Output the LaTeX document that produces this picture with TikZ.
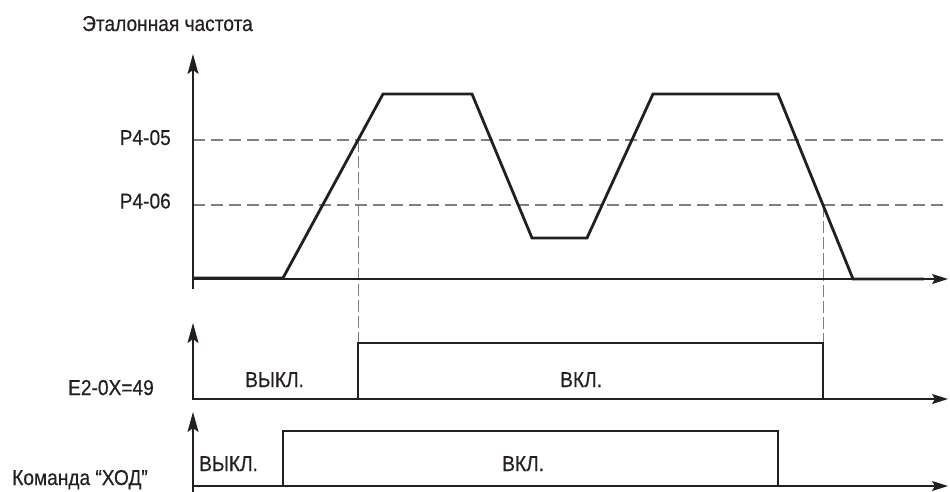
\documentclass[tikz,border=0pt]{standalone}
\usepackage{fontspec}
\setmainfont[FakeStretch=0.89,FakeBold=0.4]{Liberation Sans}
\usetikzlibrary{arrows.meta}
\definecolor{ink}{HTML}{231F20}
\definecolor{dashgray}{HTML}{7F7F7F}
\tikzset{
  axisline/.style={ink, line width=1.2pt},
  vaxis/.style={axisline, -{Stealth[length=20pt,width=11pt,inset=4pt]}},
  haxis/.style={axisline, -{Stealth[length=16pt,width=10pt,inset=3pt]}},
  signal/.style={ink, line width=2.8pt},
  level/.style={dashgray, line width=1.5pt, dash pattern=on 12pt off 6pt},
  guide/.style={dashgray, line width=1pt, dash pattern=on 12pt off 4pt},
  lbl/.style={font=\fontsize{21.5}{24}\selectfont, text=ink, inner sep=0pt},
}
\begin{document}
\begin{tikzpicture}[x=1pt,y=-1pt]
\useasboundingbox (0,0) rectangle (950,492);
% axes coordinates
\coordinate (v1b) at (193,289); \coordinate (v1t) at (193,54);
\coordinate (h1a) at (193,279); \coordinate (h1b) at (948,279);
\coordinate (v2b) at (193,400); \coordinate (v2t) at (193,323);
\coordinate (h2a) at (193,399); \coordinate (h2b) at (948,399);
\coordinate (v3b) at (193,492); \coordinate (v3t) at (193,412);
\coordinate (h3a) at (193,486); \coordinate (h3b) at (948,486);
% levels
\coordinate (l5a) at (193,140); \coordinate (l5b) at (945,140);
\coordinate (l6a) at (193,205); \coordinate (l6b) at (945,205);
% crossing points
\coordinate (c1) at (358,140); \coordinate (c1s) at (358,343);
\coordinate (c2) at (823,205); \coordinate (c2s) at (823,343);

% dashed levels and guides
\draw[level] (l5a) -- (l5b);
\draw[level] (l6a) -- (l6b);
\draw[guide] (c1) -- (c1s);
\draw[guide] (c2) -- (c2s);

% axes
\draw[vaxis] (v1b) -- (v1t);
\draw[haxis] (h1a) -- (h1b);
\draw[vaxis] (v2b) -- (v2t);
\draw[haxis] (h2a) -- (h2b);
\draw[vaxis] (v3b) -- (v3t);
\draw[haxis] (h3a) -- (h3b);

% signals
\draw[signal] (193,278) -- (283,278) -- (383,94) -- (472,94) -- (532,238) -- (587,238)
  -- (653,94) -- (778,94) -- (853,279) -- (924,279);
\draw[signal] (193,399) -- (358,399) -- (c1s) -- (c2s) -- (823,399) -- (924,399);
\draw[signal] (193,486) -- (283,486) -- (283,431) -- (778,431) -- (778,486) -- (924,486);

% labels
\node[lbl, anchor=base west] (title) at (82,31) {Эталонная частота};
\node[lbl, anchor=base east] (p405) at (171,145) {P4-05};
\node[lbl, anchor=base east] (p406) at (171,208.5) {P4-06};
\node[lbl, anchor=base east] (e2) at (154,395) {E2-0X=49};
\node[lbl, anchor=base west] (cmd) at (12,485) {Команда “ХОД”};
\node[lbl, anchor=base west] (off2) at (245,387) {ВЫКЛ.};
\node[lbl, anchor=base west] (on2) at (560,387) {ВКЛ.};
\node[lbl, anchor=base west] (off3) at (199,471) {ВЫКЛ.};
\node[lbl, anchor=base west] (on3) at (502,471) {ВКЛ.};
\end{tikzpicture}
\end{document}
